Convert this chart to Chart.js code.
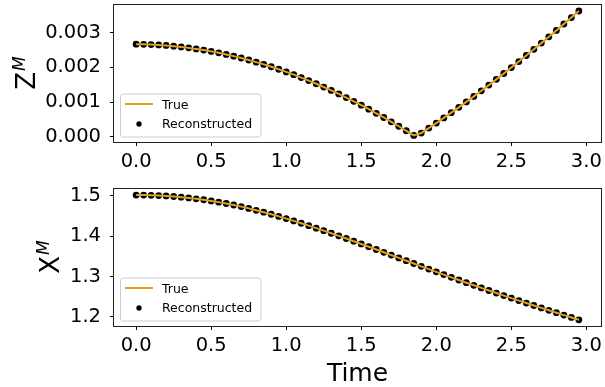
<!DOCTYPE html>
<html>
<head>
<meta charset="utf-8">
<script src="https://cdn.jsdelivr.net/npm/chart.js@4.4.1/dist/chart.umd.min.js"></script>
<style>
  html, body { margin: 0; padding: 0; background: #fff; }
  #wrap { position: relative; width: 605px; height: 387px; }
  canvas { position: absolute; left: 0; }
</style>
</head>
<body>
<div id="wrap">
  <canvas id="zChart" width="605" height="180" style="top:0"></canvas>
  <canvas id="xChart" width="605" height="207" style="top:180px"></canvas>
</div>
<script>
// sample times
const times = [
  0.00, 0.05, 0.10, 0.15, 0.20, 0.25, 0.30, 0.35, 0.40, 0.45,
  0.50, 0.55, 0.60, 0.65, 0.70, 0.75, 0.80, 0.85, 0.90, 0.95,
  1.00, 1.05, 1.10, 1.15, 1.20, 1.25, 1.30, 1.35, 1.40, 1.45,
  1.50, 1.55, 1.60, 1.65, 1.70, 1.75, 1.80, 1.85, 1.90, 1.95,
  2.00, 2.05, 2.10, 2.15, 2.20, 2.25, 2.30, 2.35, 2.40, 2.45,
  2.50, 2.55, 2.60, 2.65, 2.70, 2.75, 2.80, 2.85, 2.90, 2.95
];

// Z^M, true and reconstructed coincide
const zTrue = [
  0.002662, 0.002659, 0.002652, 0.002641, 0.002626, 0.002607, 0.002584, 0.002557, 0.002527, 0.002493,
  0.002456, 0.002414, 0.002368, 0.002319, 0.002266, 0.002208, 0.002147, 0.002082, 0.002014, 0.001942,
  0.001866, 0.001786, 0.001702, 0.001616, 0.001525, 0.001431, 0.001333, 0.001232, 0.001128, 0.001020,
  0.000908, 0.000794, 0.000676, 0.000555, 0.000431, 0.000303, 0.000173, 0.000040, 0.000108, 0.000251,
  0.000395, 0.000543, 0.000694, 0.000847, 0.001003, 0.001161, 0.001323, 0.001486, 0.001652, 0.001820,
  0.001991, 0.002164, 0.002338, 0.002515, 0.002694, 0.002875, 0.003058, 0.003243, 0.003429, 0.003617
];
const zReconstructed = zTrue.slice();

// X^M
const xTrue = [
  1.5020, 1.5019, 1.5014, 1.5007, 1.4997, 1.4984, 1.4968, 1.4949, 1.4927, 1.4903,
  1.4875, 1.4844, 1.4810, 1.4773, 1.4733, 1.4689, 1.4642, 1.4594, 1.4543, 1.4490,
  1.4435, 1.4378, 1.4320, 1.4260, 1.4199, 1.4136, 1.4072, 1.4007, 1.3941, 1.3874,
  1.3806, 1.3738, 1.3669, 1.3599, 1.3530, 1.3460, 1.3390, 1.3321, 1.3251, 1.3182,
  1.3114, 1.3046, 1.2978, 1.2911, 1.2845, 1.2780, 1.2715, 1.2651, 1.2588, 1.2525,
  1.2463, 1.2401, 1.2340, 1.2279, 1.2219, 1.2159, 1.2100, 1.2041, 1.1982, 1.1924
];
const xReconstructed = xTrue.slice();

const timeTicks = [0.0, 0.5, 1.0, 1.5, 2.0, 2.5, 3.0];
const zTicks = [0.000, 0.001, 0.002, 0.003];
const xmTicks = [1.2, 1.3, 1.4, 1.5];

const seriesLabels = ["True", "Reconstructed"];
const TRUE_COLOR = "#e2a01c";
const FONT = "DejaVu Sans";
const TICK_SIZE = 19.5;

Chart.defaults.font.family = FONT;

const pts = (vals) => times.map((t, i) => ({ x: t, y: vals[i] }));

// axes frame + legend box in lower-left corner of the plot area
const frameLegend = {
  id: "frameLegend",
  afterDatasetsDraw(chart) {
    const ctx = chart.ctx;
    const a = chart.chartArea;
    ctx.save();
    ctx.strokeStyle = "#222";
    ctx.lineWidth = 1;
    ctx.strokeRect(Math.round(a.left) - 0.5, Math.round(a.top) - 0.5,
                   Math.round(a.right - a.left) + 1, Math.round(a.bottom - a.top) + 1);

    const bx = a.left + 6.5, bw = 140.5, bh = 43;
    const by = a.bottom - 5 - bh;
    ctx.beginPath();
    ctx.roundRect(bx, by, bw, bh, 3);
    ctx.fillStyle = "rgba(255,255,255,0.8)";
    ctx.fill();
    ctx.strokeStyle = "#cccccc";
    ctx.stroke();

    const ds = chart.data.datasets;
    ctx.strokeStyle = ds[0].borderColor;
    ctx.lineWidth = 2;
    ctx.beginPath();
    ctx.moveTo(bx + 4.5, by + 10);
    ctx.lineTo(bx + 32.5, by + 10);
    ctx.stroke();

    ctx.fillStyle = "#000";
    ctx.beginPath();
    ctx.arc(bx + 18.5, by + 30, 2.7, 0, Math.PI * 2);
    ctx.fill();

    ctx.font = "12.5px " + FONT;
    ctx.textBaseline = "alphabetic";
    ctx.textAlign = "left";
    ctx.fillText(ds[0].label, bx + 41.5, by + 15);
    ctx.fillText(ds[1].label, bx + 41.5, by + 34);
    ctx.restore();
  }
};

// y label with superscript, optional x label
const axisLabels = {
  id: "axisLabels",
  afterDraw(chart, args, opts) {
    const ctx = chart.ctx;
    const a = chart.chartArea;
    ctx.save();
    ctx.fillStyle = "#000";
    ctx.textBaseline = "alphabetic";
    ctx.textAlign = "left";
    const mainFont = "26px " + FONT;
    const supFont = "italic 17px " + FONT;
    ctx.font = mainFont;
    const wMain = ctx.measureText(opts.yMain).width;
    ctx.font = supFont;
    const wSup = ctx.measureText(opts.ySup).width;
    const cy = (a.top + a.bottom) / 2;
    ctx.translate(opts.yBaseX, cy);
    ctx.rotate(-Math.PI / 2);
    const x0 = -(wMain + wSup) / 2;
    ctx.font = mainFont;
    ctx.fillText(opts.yMain, x0, 0);
    ctx.font = supFont;
    ctx.fillText(opts.ySup, x0 + wMain + 1, -10);
    ctx.setTransform(1, 0, 0, 1, 0, 0);
    if (opts.xLabel) {
      ctx.font = "25px " + FONT;
      ctx.textAlign = "center";
      ctx.fillText(opts.xLabel, (a.left + a.right) / 2, opts.xBaseline);
    }
    ctx.restore();
  }
};

function makeChart(id, trueVals, recVals, o) {
  return new Chart(document.getElementById(id), {
    type: "scatter",
    data: {
      datasets: [
        {
          label: seriesLabels[0],
          data: pts(trueVals),
          showLine: true,
          borderColor: TRUE_COLOR,
          borderWidth: 2,
          pointRadius: 0,
          tension: 0
        },
        {
          label: seriesLabels[1],
          data: pts(recVals),
          backgroundColor: "#000",
          borderWidth: 0,
          pointRadius: 3.4
        }
      ]
    },
    options: {
      responsive: false,
      animation: false,
      devicePixelRatio: 1,
      layout: { padding: { top: o.padTop, right: 3, left: 0, bottom: 0 } },
      plugins: {
        legend: { display: false },
        tooltip: { enabled: false },
        axisLabels: o.labels
      },
      scales: {
        x: {
          type: "linear",
          min: -0.1475,
          max: 3.0975,
          afterBuildTicks: (s) => { s.ticks = timeTicks.map(v => ({ value: v })); },
          afterFit: (s) => { s.height = o.xHeight; s.paddingLeft = 0; s.paddingRight = 0; },
          ticks: {
            callback: (v) => Number(v).toFixed(1),
            color: "#000",
            font: { family: FONT, size: TICK_SIZE },
            padding: 4,
            maxRotation: 0,
            autoSkip: false
          },
          grid: { drawOnChartArea: false, drawTicks: true, tickLength: 4, tickColor: "#000", tickWidth: 1 },
          border: { display: false }
        },
        y: {
          type: "linear",
          min: o.yMin,
          max: o.yMax,
          afterBuildTicks: (s) => { s.ticks = o.yTicks.map(v => ({ value: v })); },
          afterFit: (s) => { s.width = 114; s.paddingTop = 0; s.paddingBottom = 0; },
          ticks: {
            callback: (v) => Number(v).toFixed(o.decimals),
            color: "#000",
            font: { family: FONT, size: TICK_SIZE },
            padding: 9,
            autoSkip: false
          },
          grid: { drawOnChartArea: false, drawTicks: true, tickLength: 4, tickColor: "#000", tickWidth: 1 },
          border: { display: false }
        }
      }
    },
    plugins: [frameLegend, axisLabels]
  });
}

makeChart("zChart", zTrue, zReconstructed, {
  padTop: 5, xHeight: 38,
  yMin: -0.00015, yMax: 0.00379, yTicks: zTicks, decimals: 3,
  labels: { yMain: "Z", ySup: "M", yBaseX: 35 }
});

makeChart("xChart", xTrue, xReconstructed, {
  padTop: 9, xHeight: 61,
  yMin: 1.177, yMax: 1.517, yTicks: xmTicks, decimals: 1,
  labels: { yMain: "X", ySup: "M", yBaseX: 59, xLabel: "Time", xBaseline: 201 }
});
</script>
</body>
</html>
